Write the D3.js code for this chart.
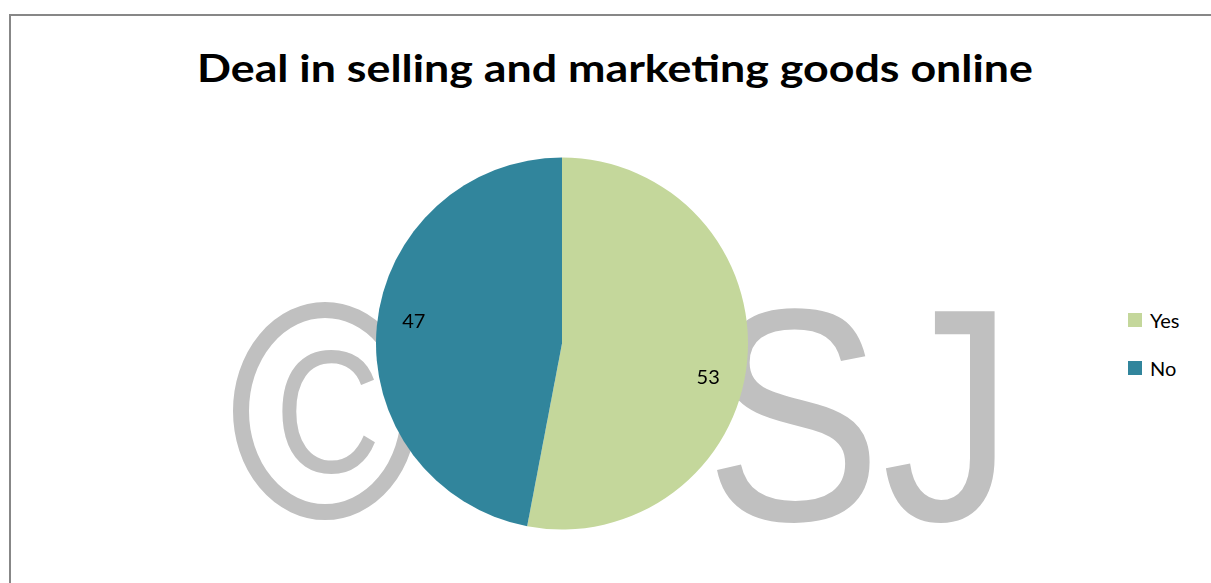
<!DOCTYPE html>
<html>
<head>
<meta charset="utf-8">
<script src="https://cdn.jsdelivr.net/npm/d3@7"></script>
<style>
  html, body { margin: 0; padding: 0; background: #fff; }
  svg { display: block; }
</style>
</head>
<body>
<svg id="chart" width="1211" height="583"></svg>
<script>
// Survey responses
const categories = ["Yes", "No"];
const values = [53, 47];
const colors = ["#c4d79b", "#31859c"];
const title = "Deal in selling and marketing goods online";

const svg = d3.select("#chart");
const W = 1211, H = 583;

svg.append("rect").attr("width", W).attr("height", H).attr("fill", "#fff");

// Chart frame (runs past the right and bottom edges)
svg.append("rect")
  .attr("x", 10).attr("y", 15)
  .attr("width", 1230).attr("height", 600)
  .attr("fill", "none")
  .attr("stroke", "#878787")
  .attr("stroke-width", 2);

// Copyright watermark behind the plot
const defs = svg.append("defs");
defs.append("filter").attr("id", "soft")
  .append("feGaussianBlur").attr("stdDeviation", 0.7);

const wmColor = "#c0c0c0";
const wm = svg.append("g")
  .attr("filter", "url(#soft)")
  .style("font-family", "'Liberation Sans', Arial, sans-serif");

// copyright ring
wm.append("ellipse")
  .attr("cx", 325).attr("cy", 411)
  .attr("rx", 84).attr("ry", 101)
  .attr("fill", "none")
  .attr("stroke", wmColor)
  .attr("stroke-width", 16);
wm.append("text")
  .attr("transform", "translate(275,472) scale(1,1.19)")
  .style("font-size", "146px")
  .attr("fill", wmColor)
  .text("C");
wm.append("text")
  .attr("transform", "translate(705,520) scale(1,1.145)")
  .style("font-size", "265px")
  .attr("fill", wmColor)
  .text("SJ");

// Title
svg.append("text")
  .attr("x", 615).attr("y", 82)
  .attr("text-anchor", "middle")
  .style("font-family", "Lato, 'Open Sans', sans-serif")
  .style("font-weight", "bold")
  .style("font-size", "38px")
  .attr("textLength", 836)
  .attr("lengthAdjust", "spacingAndGlyphs")
  .attr("fill", "#000")
  .text(title);

// Pie
const cx = 562, cy = 343.5, r = 186;
const pie = d3.pie().sort(null).value(d => d.v);
const data = pie(categories.map((c, i) => ({ c, v: values[i] })));
const color = d3.scaleOrdinal().domain(categories).range(colors);
const arc = d3.arc().innerRadius(0).outerRadius(r);
const labelArc = d3.arc().innerRadius(r * 0.8).outerRadius(r * 0.8);

const g = svg.append("g").attr("transform", `translate(${cx},${cy})`);
g.selectAll("path.slice")
  .data(data)
  .join("path")
  .attr("class", "slice")
  .attr("d", arc)
  .attr("fill", d => color(d.data.c));

g.selectAll("text.val")
  .data(data)
  .join("text")
  .attr("class", "val")
  .attr("transform", d => {
    const [x, y] = labelArc.centroid(d);
    return `translate(${x - (x > 0 ? 2 : 0)},${y + (y > 0 ? 18 : -9)})`;
  })
  .attr("text-anchor", "middle")
  .attr("dominant-baseline", "central")
  .style("font-family", "Lato, 'Open Sans', sans-serif")
  .style("font-size", "20px")
  .attr("fill", "#000")
  .text(d => d.data.v);

// Legend
const legend = svg.append("g").attr("transform", "translate(1128,313)");
const items = legend.selectAll("g")
  .data(categories)
  .join("g")
  .attr("transform", (d, i) => `translate(0,${i * 48})`);
items.append("rect")
  .attr("width", 14).attr("height", 14)
  .attr("fill", d => color(d));
items.append("text")
  .attr("x", 22).attr("y", 7)
  .attr("dominant-baseline", "central")
  .style("font-family", "Lato, 'Open Sans', sans-serif")
  .style("font-size", "20px")
  .attr("fill", "#000")
  .text(d => d);
</script>
</body>
</html>
